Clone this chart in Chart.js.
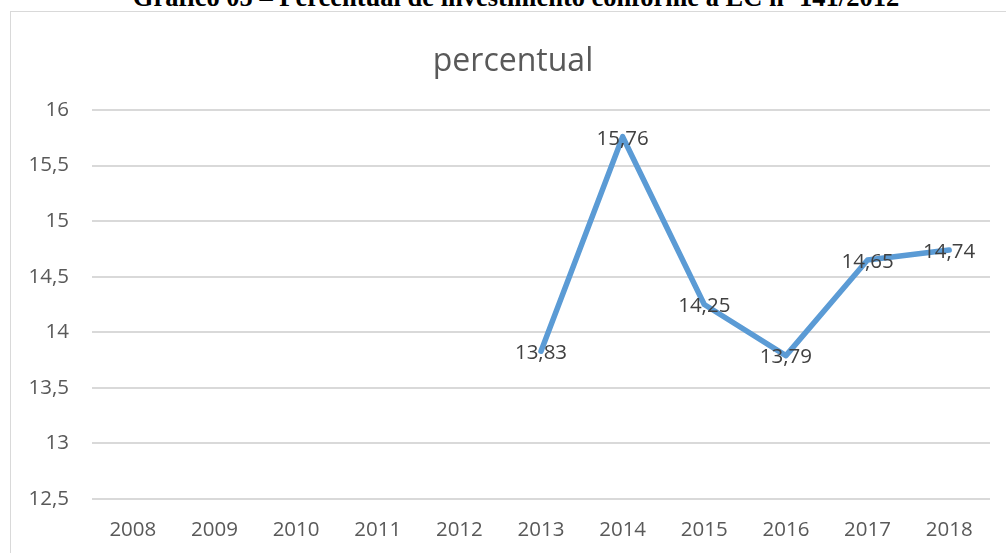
<!DOCTYPE html>
<html>
<head>
<meta charset="utf-8">
<script src="https://cdn.jsdelivr.net/npm/chart.js@4"></script>
<style>
  html, body { margin: 0; padding: 0; background: #fff; overflow: hidden; }
  body { width: 1006px; height: 553px; position: relative; }
  #caption {
    position: absolute; left: 0; width: 1032px; top: -16px;
    font: bold 26.5px "Liberation Serif", "Times New Roman", serif;
    line-height: 27px; text-align: center; color: #000; white-space: nowrap;
  }
  #frame {
    position: absolute; left: 10px; top: 11px; width: 1020px; height: 560px;
    border: 1.5px solid #d9d9d9; box-sizing: border-box;
  }
  #wrap { position: absolute; left: 0; top: 0; width: 1006px; height: 553px; }
</style>
</head>
<body>
<div id="caption">Gráfico 05 – Percentual de investimento conforme a EC nº 141/2012</div>
<div id="frame"></div>
<div id="wrap"><canvas id="chart"></canvas></div>
<script>
// data
let years = ['2008', '2009', '2010', '2011', '2012', '2013', '2014', '2015', '2016', '2017', '2018'];
let percentual = [null, null, null, null, null, 13.83, 15.76, 14.25, 13.79, 14.65, 14.74];
let yTicks = [12.5, 13, 13.5, 14, 14.5, 15, 15.5, 16];
let chartTitle = 'percentual';

function virgula(v) {
  return String(v).replace('.', ',');
}

// value labels centred on each point, like the spreadsheet
let valueLabels = {
  id: 'valueLabels',
  afterDatasetsDraw(chart) {
    let ctx = chart.ctx;
    let meta = chart.getDatasetMeta(0);
    ctx.save();
    ctx.font = '20.5px "Open Sans"';
    ctx.fillStyle = '#404040';
    ctx.textAlign = 'center';
    ctx.textBaseline = 'middle';
    meta.data.forEach((pt, i) => {
      let v = percentual[i];
      if (v === null) return;
      ctx.fillText(virgula(v.toFixed(2)), pt.x, pt.y + 2);
    });
    ctx.restore();
  }
};

// title centred on the whole frame, not only on the plot
let frameTitle = {
  id: 'frameTitle',
  afterDraw(chart) {
    let ctx = chart.ctx;
    ctx.save();
    ctx.font = '32px "Open Sans"';
    ctx.fillStyle = '#595959';
    ctx.textAlign = 'center';
    ctx.textBaseline = 'middle';
    ctx.fillText(chartTitle, 513, 62);
    ctx.restore();
  }
};

let chart = new Chart(document.getElementById('chart'), {
  type: 'line',
  data: {
    labels: years,
    datasets: [{
      label: 'percentual',
      data: percentual,
      borderColor: '#5B9BD5',
      backgroundColor: '#5B9BD5',
      borderWidth: 5.5,
      borderJoinStyle: 'round',
      borderCapStyle: 'round',
      pointRadius: 0,
      tension: 0
    }]
  },
  options: {
    responsive: true,
    maintainAspectRatio: false,
    animation: false,
    layout: { padding: { left: 10, right: 16, top: 110, bottom: 0 } },
    plugins: {
      legend: { display: false },
      tooltip: { enabled: false },
      title: { display: false }
    },
    scales: {
      x: {
        offset: true,
        grid: { display: false, drawTicks: false },
        border: { display: false },
        ticks: { color: '#595959', font: { family: 'Open Sans', size: 20.5 }, padding: 19, maxRotation: 0 },
        afterFit(s) { s.height = 54; }
      },
      y: {
        min: 12.5,
        max: 16,
        grid: { color: '#d9d9d9', lineWidth: 2, drawTicks: false },
        border: { display: false },
        afterBuildTicks(s) { s.ticks = yTicks.map(v => ({ value: v })); },
        ticks: {
          color: '#595959',
          font: { family: 'Open Sans', size: 20.5 },
          padding: 23,
          callback: v => virgula(v)
        },
        afterFit(s) { s.width = 82; }
      }
    }
  },
  plugins: [valueLabels, frameTitle]
});
</script>
</body>
</html>
